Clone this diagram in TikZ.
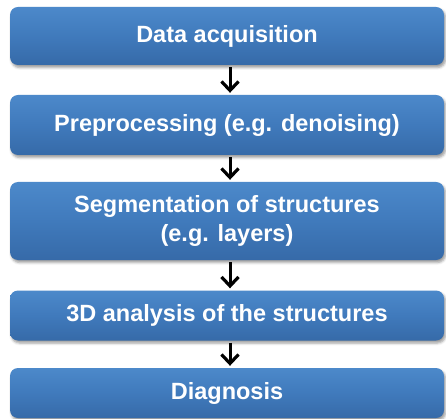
\documentclass[tikz,border=0pt]{standalone}
\usepackage{fontspec}
\setmainfont{Liberation Sans}
\usetikzlibrary{arrows.meta,shadows.blur}

\definecolor{boxtop}{RGB}{76,137,202}
\definecolor{boxmid}{RGB}{64,122,188}
\definecolor{boxbot}{RGB}{54,106,168}

\tikzset{
  flowbox/.style={
    rounded corners=8pt,
    top color=boxtop, bottom color=boxbot, middle color=boxmid,
    draw=none,
    blur shadow={shadow xshift=1.5pt, shadow yshift=-2.5pt,
                 shadow blur radius=2.5pt, shadow opacity=40},
    text=white, font=\bfseries\fontsize{23.5}{29}\selectfont,
    align=center, inner sep=0pt
  },
  flowarrow/.style={
    line width=3pt,
    -{Straight Barb[length=9pt,width=17pt,line width=3.2pt]}
  }
}

\begin{document}
\begin{tikzpicture}[x=1pt,y=-1pt]
  \useasboundingbox (0,0) rectangle (446,419);

  % the five processing stages, top to bottom
  \node[flowbox, minimum width=434pt, minimum height=58pt] (acq)  at (227,36)
    {Data acquisition};
  \node[flowbox, minimum width=434pt, minimum height=60pt] (prep) at (227,125)
    {Preprocessing (e.g. denoising)};
  \node[flowbox, minimum width=434pt, minimum height=78pt] (seg)  at (227,221)
    {Segmentation of structures\\(e.g. layers)};
  \node[flowbox, minimum width=434pt, minimum height=50pt] (ana)  at (227,315.5)
    {3D analysis of the structures};
  \node[flowbox, minimum width=434pt, minimum height=50pt] (diag) at (227,393)
    {Diagnosis};

  % connectors between consecutive stages
  \draw[flowarrow] ([xshift=3pt,yshift=-2pt]acq.south)  -- ([xshift=3pt,yshift=2pt]prep.north);
  \draw[flowarrow] ([xshift=3pt,yshift=-2pt]prep.south) -- ([xshift=3pt,yshift=2pt]seg.north);
  \draw[flowarrow] ([xshift=3pt,yshift=-2pt]seg.south)  -- ([xshift=3pt,yshift=2pt]ana.north);
  \draw[flowarrow] ([xshift=3pt,yshift=-2pt]ana.south)  -- ([xshift=3pt,yshift=2pt]diag.north);
\end{tikzpicture}
\end{document}
